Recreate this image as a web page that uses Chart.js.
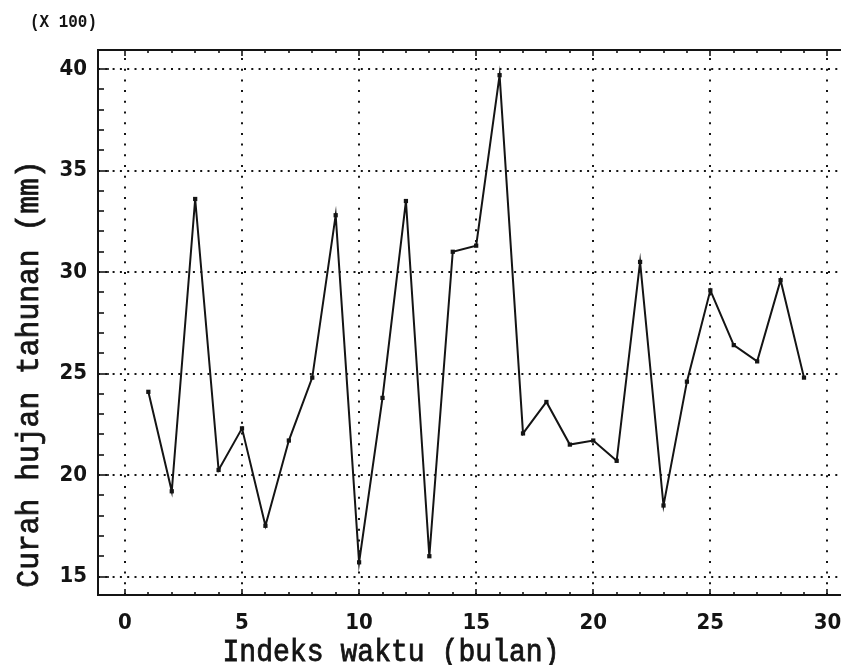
<!DOCTYPE html>
<html>
<head>
<meta charset="utf-8">
<title>Curah hujan tahunan</title>
<script src="https://cdn.jsdelivr.net/npm/chart.js@4/dist/chart.umd.min.js"></script>
<style>
  html, body { margin: 0; padding: 0; background: #fff; overflow: hidden; }
  #wrap { position: relative; width: 845px; height: 665px; }
</style>
</head>
<body>
<div id="wrap"><canvas id="rainChart"></canvas></div>
<script>
// data (y in units of x 100 mm)
const months = [1, 2, 3, 4, 5, 6, 7, 8, 9, 10, 11, 12, 13, 14, 15, 16, 17, 18, 19, 20, 21, 22, 23, 24, 25, 26, 27, 28, 29];
const rainfall = [24.1, 19.2, 33.6, 20.25, 22.3, 17.5, 21.7, 24.8, 32.8, 15.7, 23.8, 33.5, 16.0, 31.0, 31.3, 39.7, 22.05, 23.6, 21.5, 21.7, 20.7, 30.5, 18.5, 24.6, 29.1, 26.4, 25.6, 29.6, 24.8];
const xTicks = [0, 5, 10, 15, 20, 25, 30];
const yTicks = [15, 20, 25, 30, 35, 40];
const xTitle = 'Indeks waktu (bulan)';
const yTitle = 'Curah hujan tahunan (mm)';
const yUnit = '(X 100)';

const INK = '#141414';
const MONO = '"Liberation Mono", "DejaVu Sans Mono", monospace';
const NARROW = '"Liberation Sans Narrow", "DejaVu Sans Condensed", "Liberation Mono", monospace';

// dotted grid, frame and the little inward ticks, like the old plotter output
const paperGrid = {
    id: 'paperGrid',
    beforeDatasetsDraw(chart) {
        const ctx = chart.ctx;
        const a = chart.chartArea;
        const x = chart.scales.x;
        const y = chart.scales.y;
        ctx.save();
        ctx.strokeStyle = INK;
        ctx.lineWidth = 2;

        ctx.setLineDash([2, 5.3]);
        yTicks.forEach(v => {
            const py = Math.round(y.getPixelForValue(v));
            ctx.beginPath();
            ctx.moveTo(a.left, py);
            ctx.lineTo(a.right, py);
            ctx.stroke();
        });
        ctx.setLineDash([2, 8.7]);
        xTicks.forEach(v => {
            const px = Math.round(x.getPixelForValue(v));
            ctx.beginPath();
            ctx.moveTo(px, a.bottom);
            ctx.lineTo(px, a.top);
            ctx.stroke();
        });
        ctx.setLineDash([]);

        // frame (right side is cut off in the scan)
        ctx.beginPath();
        ctx.moveTo(a.right, a.top);
        ctx.lineTo(a.left, a.top);
        ctx.lineTo(a.left, a.bottom);
        ctx.lineTo(a.right, a.bottom);
        ctx.stroke();

        // minor ticks every unit
        ctx.lineWidth = 1.6;
        for (let v = Math.ceil(y.min); v <= y.max; v++) {
            const py = Math.round(y.getPixelForValue(v));
            const len = v % 5 === 0 ? 11 : 6;
            ctx.beginPath();
            ctx.moveTo(a.left, py);
            ctx.lineTo(a.left + len, py);
            ctx.stroke();
        }
        for (let v = Math.max(0, Math.ceil(x.min)); v <= x.max; v++) {
            const px = Math.round(x.getPixelForValue(v));
            const len = v % 5 === 0 ? 6 : 3;
            ctx.beginPath();
            ctx.moveTo(px, a.bottom);
            ctx.lineTo(px, a.bottom - len);
            ctx.moveTo(px, a.top);
            ctx.lineTo(px, a.top + len);
            ctx.stroke();
        }
        ctx.restore();
    },
    afterDraw(chart) {
        const ctx = chart.ctx;
        ctx.save();
        ctx.fillStyle = INK;
        ctx.strokeStyle = INK;
        ctx.textAlign = 'center';
        ctx.textBaseline = 'middle';

        ctx.save();
        ctx.translate(63.5, 22);
        ctx.scale(0.886, 1);
        ctx.font = 'bold 18px ' + MONO;
        ctx.fillText(yUnit, 0, 0);
        ctx.restore();

        // plotter lettering is tall and narrow: squeeze a bigger mono font
        ctx.textBaseline = 'alphabetic';
        ctx.font = '31px ' + MONO;
        ctx.lineWidth = 0.8;
        ctx.save();
        ctx.translate(391, 661);
        ctx.scale(0.906, 1);
        ctx.fillText(xTitle, 0, 0);
        ctx.strokeText(xTitle, 0, 0);
        ctx.restore();

        ctx.translate(38, 374);
        ctx.rotate(-Math.PI / 2);
        ctx.scale(0.957, 1);
        ctx.fillText(yTitle, 0, 0);
        ctx.strokeText(yTitle, 0, 0);
        ctx.restore();
    }
};

const ctx = document.getElementById('rainChart').getContext('2d');
const chart = new Chart(ctx, {
    type: 'line',
    data: {
        datasets: [{
            label: yTitle,
            data: months.map((m, i) => ({ x: m, y: rainfall[i] })),
            borderColor: INK,
            backgroundColor: INK,
            borderWidth: 2,
            tension: 0,
            pointStyle: 'rect',
            pointRadius: 3,
            pointBorderWidth: 0,
            fill: false
        }]
    },
    options: {
        responsive: true,
        maintainAspectRatio: false,
        animation: false,
        layout: { padding: { top: 50, right: 0, bottom: 0, left: 0 } },
        plugins: {
            legend: { display: false },
            tooltip: { enabled: false }
        },
        scales: {
            x: {
                type: 'linear',
                min: -1.15,
                max: 30.58,
                grid: { display: false, drawTicks: false },
                border: { display: false },
                afterBuildTicks: s => { s.ticks = xTicks.map(v => ({ value: v })); },
                afterFit: s => { s.height = 70; s.paddingLeft = 0; s.paddingRight = 0; },
                ticks: {
                    color: INK,
                    padding: 15,
                    maxRotation: 0,
                    font: { family: NARROW, size: 22, weight: 'bold' }
                }
            },
            y: {
                type: 'linear',
                min: 14.09,
                max: 40.94,
                grid: { display: false, drawTicks: false },
                border: { display: false },
                afterBuildTicks: s => { s.ticks = yTicks.map(v => ({ value: v })); },
                afterFit: s => { s.width = 98; s.paddingTop = 0; s.paddingBottom = 0; },
                ticks: {
                    color: INK,
                    padding: 11,
                    font: { family: NARROW, size: 22, weight: 'bold' }
                }
            }
        }
    },
    plugins: [paperGrid]
});
</script>
</body>
</html>
